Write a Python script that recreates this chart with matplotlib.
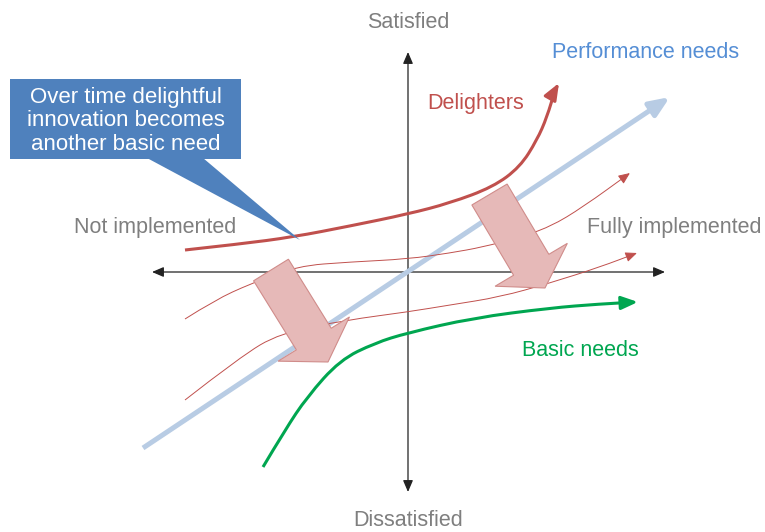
import matplotlib
matplotlib.use("Agg")
import matplotlib.pyplot as plt
from matplotlib.patches import FancyArrowPatch, FancyArrow, Polygon, Rectangle
from matplotlib.path import Path

# ---- data (x: implementation, y: satisfaction; origin at axis crossing) ----
delighters_x = [-223, -168, -115, -58, 0, 42, 85, 112, 129, 139, 147, 151]
delighters_y = [22, 28, 35, 46, 58, 69, 85, 105, 132, 155, 182, 189]

performance_x = [-265, 262]
performance_y = [-176, 175]

drift_upper_x = [-223, -193, -158, -111, -58, 0, 42, 75, 109, 142, 175, 222]
drift_upper_y = [-47, -28, -12, 6, 10, 13, 19, 25, 34, 45, 65, 99]

drift_lower_x = [-223, -168, -128, -61, -1, 42, 92, 142, 192, 229]
drift_lower_y = [-128, -85, -61, -48, -40, -33, -25, -11, 5, 19]

basic_x = [-145, -123, -101, -68, -33, -1, 65, 142, 192, 230]
basic_y = [-195, -158, -125, -88, -71, -61, -46, -36, -32, -30]

# block arrows: (tail x, tail y, dx, dy)
shift_arrows = [(-137, 2, 57, -92), (81.5, 77.5, 55.5, -93.5)]

axis_labels = ["Satisfied", "Dissatisfied", "Not implemented", "Fully implemented"]
curve_labels = ["Delighters", "Performance needs", "Basic needs"]
callout_lines = ["Over time delightful", "innovation becomes", "another basic need"]

# ---- figure ----
fig = plt.figure(figsize=(7.65, 5.32), dpi=100)
ax = fig.add_axes([0, 0, 1, 1])
ax.set_xlim(-408, 357)
ax.set_ylim(-260, 272)
ax.axis("off")

FONT = "Liberation Sans"
GRAY = "#7f7f7f"
RED = "#c0504d"
GREEN = "#00a650"
LBLUE = "#b8cce4"
TBLUE = "#558ed5"
BOX = "#4f81bd"


def smooth_path(xs, ys):
    pts = list(zip(xs, ys))
    if len(pts) < 3:
        return Path(pts)
    verts = [pts[0]]
    codes = [Path.MOVETO]
    for i in range(1, len(pts) - 1):
        mx = (pts[i][0] + pts[i + 1][0]) / 2
        my = (pts[i][1] + pts[i + 1][1]) / 2
        verts += [pts[i], (mx, my)]
        codes += [Path.CURVE3, Path.CURVE3]
    verts.append(pts[-1])
    codes.append(Path.LINETO)
    return Path(verts, codes)


def curve(xs, ys, color, lw, hl, hw, z=3):
    a = FancyArrowPatch(path=smooth_path(xs, ys),
                        arrowstyle=f"-|>,head_length={hl},head_width={hw}",
                        color=color, lw=lw, mutation_scale=1, zorder=z,
                        joinstyle="round", capstyle="butt")
    ax.add_patch(a)


# axes
for (x0, y0, x1, y1) in [(-256, 0, 257, 0), (0, -220, 0, 220)]:
    ax.add_patch(FancyArrowPatch((x0, y0), (x1, y1), arrowstyle="<|-|>,head_length=7,head_width=3",
                                 color="#222222", lw=0.9, shrinkA=0, shrinkB=0,
                                 mutation_scale=1, zorder=2))

# performance needs
curve(performance_x, performance_y, LBLUE, 3.6, 12, 5, z=2)
# drifting thin curves
curve(drift_upper_x, drift_upper_y, RED, 0.7, 7, 3, z=3)
curve(drift_lower_x, drift_lower_y, RED, 0.7, 7, 3, z=3)
# delighters
curve(delighters_x, delighters_y, RED, 2.2, 10, 4, z=4)
# basic needs
curve(basic_x, basic_y, GREEN, 2.2, 10, 4, z=4)

# block arrows
for (x, y, dx, dy) in shift_arrows:
    ax.add_patch(FancyArrow(x, y, dx, dy, width=41, head_width=84, head_length=27,
                            length_includes_head=True, facecolor="#e6b9b8",
                            edgecolor="#d08c8a", lw=0.8, zorder=5))

# callout
ax.add_patch(Rectangle((-398, 113), 231, 80, facecolor=BOX, edgecolor="none", zorder=6))
ax.add_patch(Polygon([(-261, 114), (-205, 114), (-108, 32)], closed=True,
                     facecolor=BOX, edgecolor="none", zorder=6))
for i, line in enumerate(callout_lines):
    ax.text(-282, 174 - i * 23, line, color="white", fontsize=16, family=FONT,
            ha="center", va="center", zorder=7)

# labels
ax.text(0, 250, axis_labels[0], color=GRAY, fontsize=15.5, family=FONT, ha="center", va="center")
ax.text(0, -249, axis_labels[1], color=GRAY, fontsize=15.5, family=FONT, ha="center", va="center")
ax.text(-253, 45, axis_labels[2], color=GRAY, fontsize=15.5, family=FONT, ha="center", va="center")
ax.text(266, 45, axis_labels[3], color=GRAY, fontsize=15.5, family=FONT, ha="center", va="center")
ax.text(68, 169, curve_labels[0], color=RED, fontsize=15.5, family=FONT, ha="center", va="center")
ax.text(238, 220, curve_labels[1], color=TBLUE, fontsize=15.5, family=FONT, ha="center", va="center")
ax.text(172, -79, curve_labels[2], color=GREEN, fontsize=15.5, family=FONT, ha="center", va="center")

fig.savefig("out.png", dpi=100)
